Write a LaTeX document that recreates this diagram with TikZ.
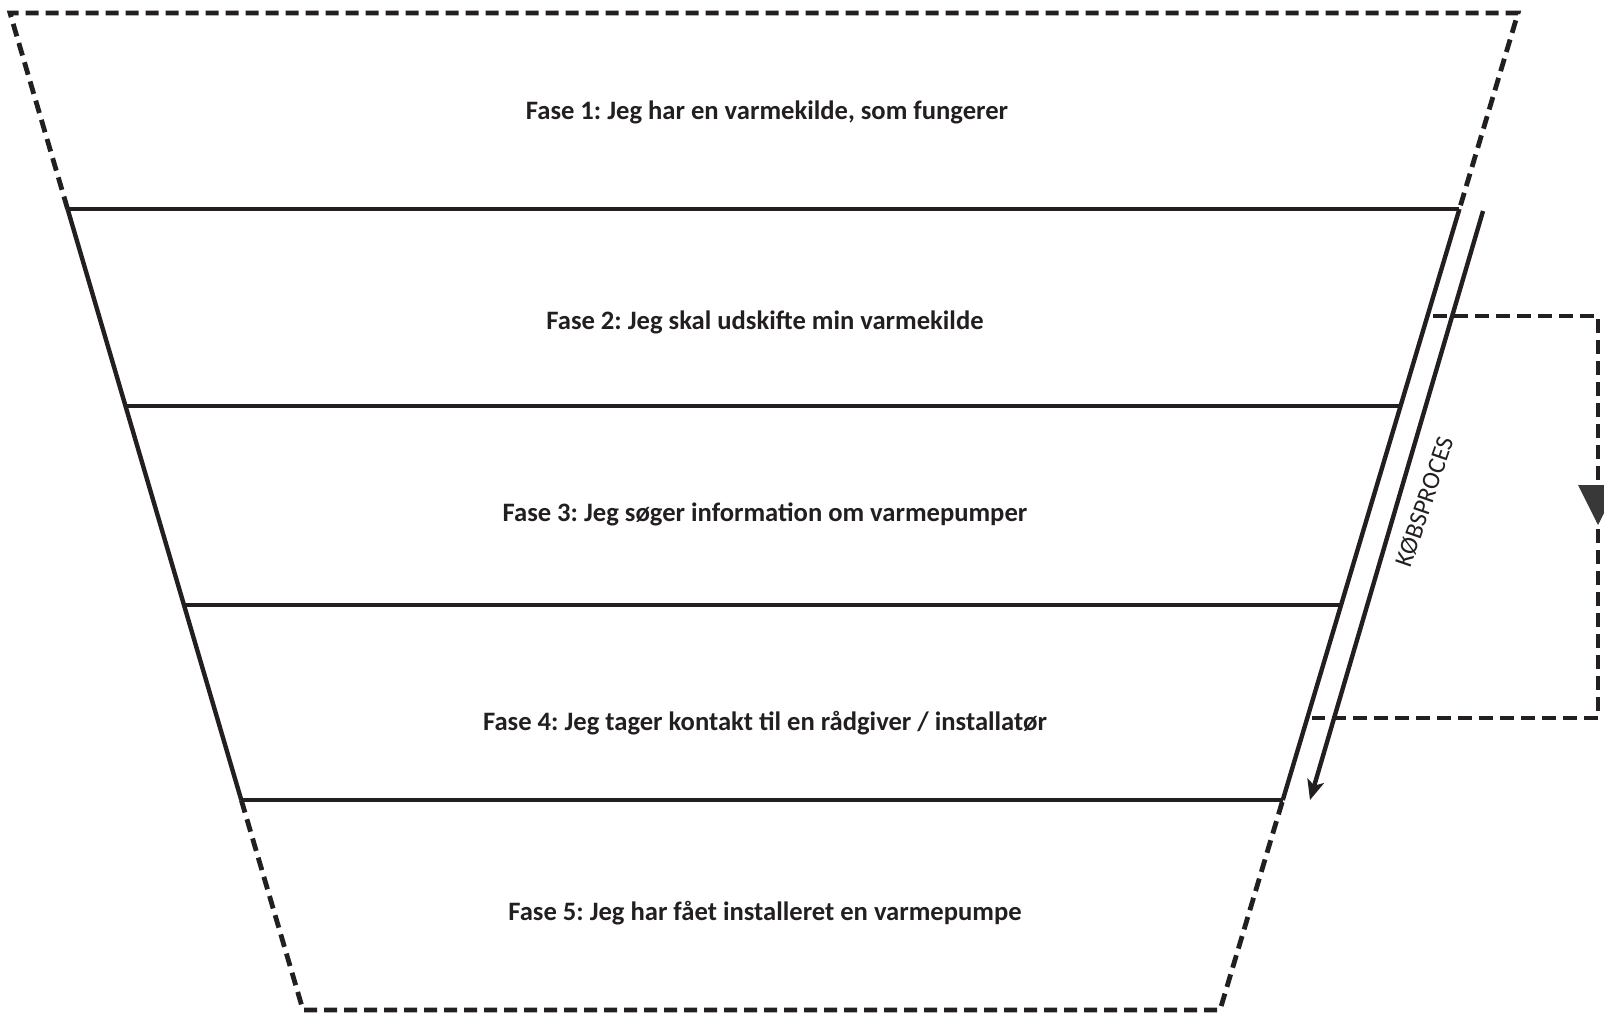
\documentclass[tikz,border=0pt]{standalone}
\usepackage{fontspec}
\setmainfont{Carlito}
\usetikzlibrary{calc,arrows.meta}
\definecolor{ink}{HTML}{231F20}
\frenchspacing

\begin{document}
\begin{tikzpicture}[x=0.5pt,y=-0.5pt,
  solidline/.style={draw=ink,line width=2.2pt,line join=miter},
  dashline/.style={draw=ink,line width=2.4pt,dash pattern=on 6.5pt off 3.5pt,line join=miter},
  loopline/.style={draw=ink,line width=2.3pt,dash pattern=on 7pt off 3.5pt,line join=miter},
  phase/.style={font=\bfseries\fontsize{13.3}{15}\selectfont,text=ink,inner sep=0pt},
  sidelabel/.style={font=\fontsize{12.6}{14}\selectfont,text=ink,inner sep=0pt},
]
\useasboundingbox (0,0) rectangle (1604,1013);

% funnel outline
\coordinate (TL) at (10,13);
\coordinate (TR) at (1518,13);
\coordinate (BR) at (1220,1010);
\coordinate (BL) at (303,1010);

% phase boundaries along the two sides
\coordinate (L1) at ($(TL)!0.1966!(BL)$);
\coordinate (R1) at ($(TR)!0.1966!(BR)$);
\coordinate (L2) at ($(TL)!0.3942!(BL)$);
\coordinate (R2) at ($(TR)!0.3942!(BR)$);
\coordinate (L3) at ($(TL)!0.5938!(BL)$);
\coordinate (R3) at ($(TR)!0.5938!(BR)$);
\coordinate (L4) at ($(TL)!0.7894!(BL)$);
\coordinate (R4) at ($(TR)!0.7894!(BR)$);

% open ends of the funnel
\draw[dashline] (L1) -- (TL) -- (TR) -- (R1);
\draw[dashline] (L4) -- (BL) -- (BR) -- (R4);

% solid middle part
\draw[solidline] (L1) -- (L4);
\draw[solidline] (R1) -- (R4);
\draw[solidline] (L1) -- (R1);
\draw[solidline] (L2) -- (R2);
\draw[solidline] (L3) -- (R3);
\draw[solidline] (L4) -- (R4);

% phase texts
\node[phase] (f1) at (767,112) {Fase 1: Jeg har en varmekilde, som fungerer};
\node[phase] (f2) at (765,322) {Fase 2: Jeg skal udskifte min varmekilde};
\node[phase] (f3) at (765,514) {Fase 3: Jeg søger information om varmepumper};
\node[phase] (f4) at (765,723) {Fase 4: Jeg tager kontakt til en rådgiver / installatør};
\node[phase] (f5) at (765,913) {Fase 5: Jeg har fået installeret en varmepumpe};

% purchase process arrow
\coordinate (A1) at (1483,211);
\coordinate (A2) at (1310,800);
\draw[solidline,-{Stealth[length=10pt,width=8.5pt,inset=2.5pt]}] (A1) -- (A2);
\node[sidelabel,rotate=71] (kp) at (1425,502) {KØBSPROCES};

% loop back from phase 2 to phase 4
\coordinate (F0) at (1433,316);
\coordinate (F1) at (1598,316);
\coordinate (F2) at (1598,718);
\coordinate (F3) at (1312,718);
\draw[loopline] (F0) -- (F1) -- (F2) -- (F3);
\fill[black!78] (1578,485) -- (1618,485) -- (1598,525) -- cycle;
\end{tikzpicture}
\end{document}
